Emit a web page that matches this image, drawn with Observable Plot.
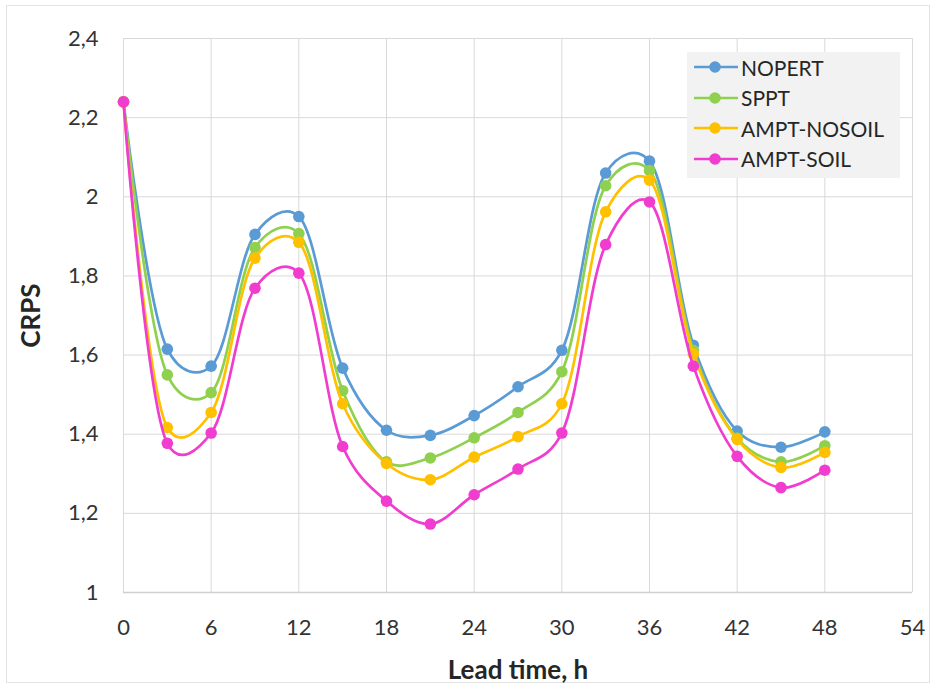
<!DOCTYPE html>
<html>
<head>
<meta charset="utf-8">
<script src="https://cdn.jsdelivr.net/npm/d3@7"></script>
<script src="https://cdn.jsdelivr.net/npm/@observablehq/plot@0.6"></script>
<style>
  html, body { margin: 0; padding: 0; background: #fff; }
  #wrap { position: relative; width: 935px; height: 688px; font-family: Lato, "Open Sans", sans-serif; }
  #frame { position: absolute; left: 6px; top: 5px; width: 922px; height: 676px; border: 1px solid #e3e3e3; pointer-events: none; }
  #legend { position: absolute; left: 687px; top: 52px; width: 213px; height: 126px; background: #f2f2f2; }
  .item { position: absolute; left: 7px; height: 30px; display: flex; align-items: center; }
  .item span { font-size: 21px; color: #262626; margin-left: 3px; }
</style>
</head>
<body>
<div id="wrap"><div id="frame"></div></div>
<script>
const leadTime = [0, 3, 6, 9, 12, 15, 18, 21, 24, 27, 30, 33, 36, 39, 42, 45, 48];
const seriesNames = ["NOPERT", "SPPT", "AMPT-NOSOIL", "AMPT-SOIL"];
const seriesColors = ["#5b9bd5", "#8fd14f", "#ffc000", "#f03ccf"];
const nopert     = [2.24, 1.615, 1.572, 1.905, 1.950, 1.567, 1.410, 1.397, 1.447, 1.520, 1.612, 2.060, 2.090, 1.625, 1.408, 1.367, 1.406];
const sppt       = [2.24, 1.550, 1.505, 1.872, 1.907, 1.510, 1.330, 1.340, 1.391, 1.455, 1.558, 2.028, 2.066, 1.612, 1.390, 1.330, 1.371];
const amptNosoil = [2.24, 1.417, 1.455, 1.845, 1.885, 1.477, 1.326, 1.285, 1.342, 1.394, 1.477, 1.962, 2.042, 1.603, 1.387, 1.316, 1.354];
const amptSoil   = [2.24, 1.377, 1.403, 1.769, 1.807, 1.369, 1.231, 1.173, 1.247, 1.312, 1.403, 1.879, 1.987, 1.572, 1.344, 1.265, 1.309];
const xTicks = [0, 6, 12, 18, 24, 30, 36, 42, 48, 54];
const yTicks = [1, 1.2, 1.4, 1.6, 1.8, 2, 2.2, 2.4];

const allValues = [nopert, sppt, amptNosoil, amptSoil];
const seriesData = seriesNames.map((name, i) =>
  leadTime.map((t, j) => ({ series: name, t, v: allValues[i][j] }))
);

const seriesMarks = seriesData.flatMap((data, i) => [
  Plot.line(data, { x: "t", y: "v", stroke: seriesColors[i], strokeWidth: 2.7, curve: "catmull-rom", tension: 0.25 }),
  Plot.dot(data, { x: "t", y: "v", fill: seriesColors[i], r: 5.8 })
]);

const chart = Plot.plot({
  width: 935,
  height: 688,
  marginLeft: 123,
  marginRight: 23,
  marginTop: 38,
  marginBottom: 96,
  style: { fontFamily: "Lato, 'Open Sans', sans-serif", fontSize: "22px", color: "#333", background: "transparent" },
  x: { domain: [0, 54], ticks: xTicks },
  y: { domain: [1, 2.4], ticks: yTicks },
  marks: [
    Plot.gridX(xTicks, { stroke: "#d9d9d9", strokeOpacity: 1, strokeWidth: 1 }),
    Plot.gridY(yTicks, { stroke: "#d9d9d9", strokeOpacity: 1, strokeWidth: 1 }),
    Plot.ruleY([1], { stroke: "#d0d0d0", strokeWidth: 1.5 }),
    Plot.axisX(xTicks, { tickSize: 0, tickPadding: 27, label: null, fontSize: 22, fill: "#333" }),
    Plot.axisX({ tickSize: 0, ticks: [], label: "Lead time, h", labelArrow: "none", labelAnchor: "center", labelOffset: 86, fontSize: 26, fontWeight: "bold", fill: "#262626" }),
    Plot.axisY(yTicks, { tickSize: 0, tickPadding: 25, tickFormat: d => String(d).replace(".", ","), label: null, fontSize: 22, fill: "#333" }),
    Plot.axisY({ tickSize: 0, ticks: [], label: "CRPS", labelArrow: "none", labelAnchor: "center", labelOffset: 102, fontSize: 26, fontWeight: "bold", fill: "#262626" }),
    ...seriesMarks
  ]
});
chart.style.position = "absolute";
chart.style.left = "0px";
chart.style.top = "0px";
const wrap = document.getElementById("wrap");
wrap.appendChild(chart);

// axis labels: bold, no arrows
chart.querySelectorAll("[aria-label='x-axis label'] text, [aria-label='y-axis label'] text").forEach(t => {
  t.textContent = t.textContent.replace(/\s*[→↑←↓]\s*/g, "").trim();
  t.setAttribute("font-weight", "bold");
  t.setAttribute("font-size", "26");
  t.setAttribute("fill", "#262626");
});

// legend
const legend = document.createElement("div");
legend.id = "legend";
seriesNames.forEach((name, i) => {
  const item = document.createElement("div");
  item.className = "item";
  item.style.top = (i * 30.5) + "px";
  item.innerHTML = `<svg width="44" height="14"><line x1="0" y1="7" x2="44" y2="7" stroke="${seriesColors[i]}" stroke-width="2.7"/><circle cx="21" cy="7" r="5.8" fill="${seriesColors[i]}"/></svg><span>${name}</span>`;
  legend.appendChild(item);
});
wrap.appendChild(legend);
</script>
</body>
</html>
